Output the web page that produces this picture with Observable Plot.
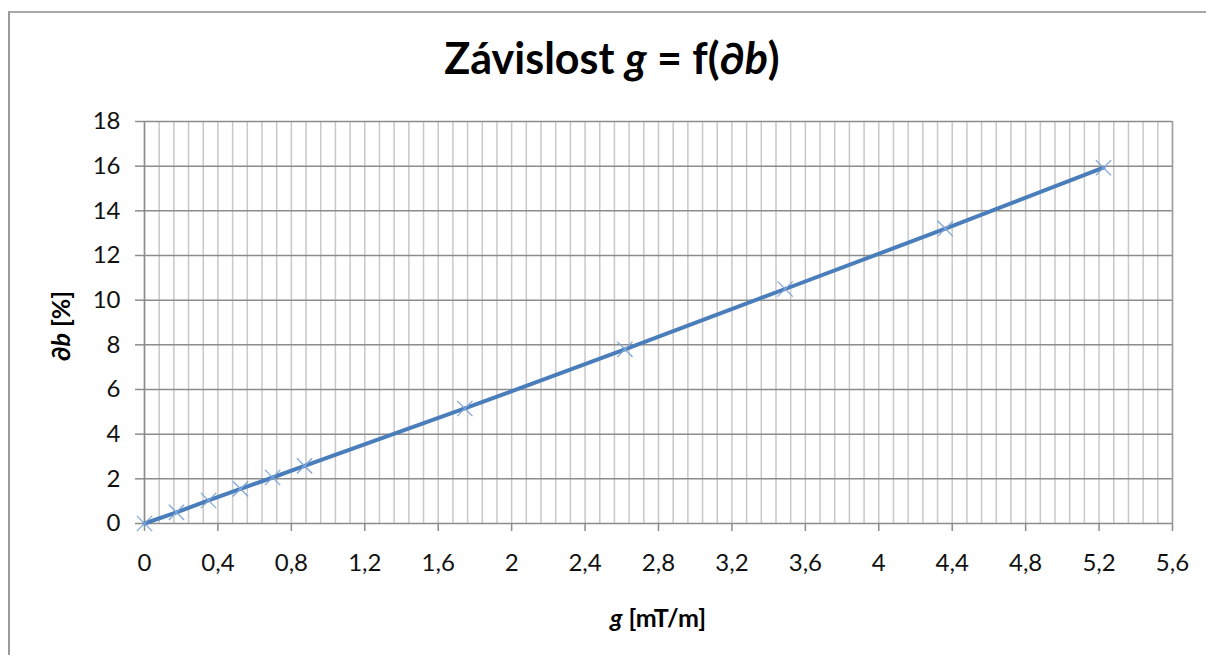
<!DOCTYPE html>
<html>
<head>
<meta charset="utf-8">
<script src="https://cdn.jsdelivr.net/npm/d3@7"></script>
<script src="https://cdn.jsdelivr.net/npm/@observablehq/plot@0.6"></script>
<style>
  html, body { margin: 0; padding: 0; background: #fff; }
  #wrap { position: relative; width: 1206px; height: 655px; overflow: hidden; font-family: Lato, "Open Sans", sans-serif; color: #000; }
  #frame { position: absolute; left: 8px; top: 11px; width: 1300px; height: 700px; border-left: 2px solid #9a9a9a; border-top: 2px solid #a8a8a8; }
  #title { position: absolute; left: 0; width: 1224px; top: 33px; text-align: center; font-size: 43px; font-weight: bold; line-height: 50px; }
  #xlabel { position: absolute; left: 144px; width: 1028px; top: 602px; text-align: center; font-size: 25px; font-weight: bold; line-height: 30px; }
  #ylabel { position: absolute; left: 60px; top: 326px; transform: translate(-50%, -50%) rotate(-90deg); font-size: 25px; font-weight: bold; white-space: nowrap; line-height: 30px; }
  #chart { position: absolute; left: 0; top: 100px; }
</style>
</head>
<body>
<div id="wrap">
  <div id="frame"></div>
  <div id="title">Závislost <i>g</i> = f(∂<i>b</i>)</div>
  <div id="chart"></div>
  <div id="xlabel"><i>g</i> [mT/m]</div>
  <div id="ylabel">∂<i>b</i> [%]</div>
</div>
<script>
// Measured series
const gValues  = [0, 0.174, 0.349, 0.523, 0.698, 0.872, 1.745, 2.617, 3.49, 4.363, 5.224];
const dbValues = [0, 0.5, 1.03, 1.55, 2.06, 2.58, 5.15, 7.8, 10.5, 13.2, 15.93];

// Axis ticks
const xTicks = [0, 0.4, 0.8, 1.2, 1.6, 2, 2.4, 2.8, 3.2, 3.6, 4, 4.4, 4.8, 5.2, 5.6];
const yTicks = [0, 2, 4, 6, 8, 10, 12, 14, 16, 18];
const xMinorStep = 0.08;

const data = gValues.map((g, i) => ({g, db: dbValues[i]}));
const xMinor = d3.range(0, 71).map(i => +(i * xMinorStep).toFixed(2));
const comma = d => String(d).replace(".", ",");

const plot = Plot.plot({
  width: 1206,
  height: 555,
  marginTop: 21,
  marginBottom: 132,
  marginLeft: 144,
  marginRight: 34,
  style: {fontFamily: "Lato, 'Open Sans', sans-serif", fontSize: "24px", color: "#111", background: "transparent"},
  x: {domain: [0, 5.6]},
  y: {domain: [0, 18]},
  marks: [
    Plot.ruleX(xMinor, {stroke: "#c8c8c8", strokeWidth: 1.5}),
    Plot.ruleY(yTicks, {stroke: "#8c8c8c", strokeWidth: 1.5}),
    Plot.ruleX([0], {stroke: "#8c8c8c", strokeWidth: 1.5}),
    Plot.ruleX([5.6], {stroke: "#a0a0a0", strokeWidth: 1.5}),
    Plot.axisX({ticks: xTicks, tickFormat: comma, tickSize: 8, tickPadding: 22, label: null, stroke: "#8c8c8c", strokeWidth: 1.5}),
    Plot.axisY({ticks: yTicks, tickFormat: comma, tickSize: 9, tickPadding: 15, label: null, stroke: "#8c8c8c", strokeWidth: 1.5}),
    Plot.line(data, {x: "g", y: "db", stroke: "#4a7ebb", strokeWidth: 4}),
    Plot.dot(data, {x: "g", y: "db", symbol: "times", r: 7, stroke: "#7fa6d9", strokeWidth: 1.3})
  ]
});
document.getElementById("chart").appendChild(plot);
</script>
</body>
</html>
